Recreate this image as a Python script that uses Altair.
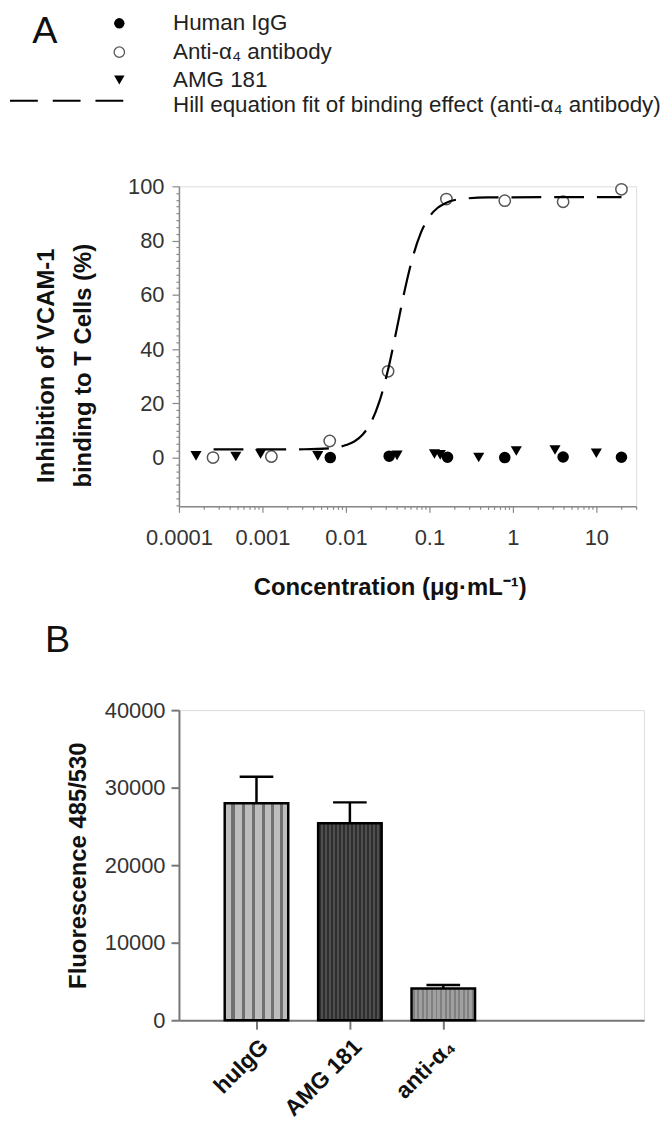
import json
import altair as alt
import pandas as pd

FONT = "Liberation Sans"

# ---------------- Panel A data ----------------
igg_x = [0.00128, 0.0065, 0.033, 0.165, 0.8, 4.0, 20.0]
igg_y = [0.2, 0.0, 0.5, 0.1, 0.0, 0.2, 0.1]

anti_x = [0.000256, 0.00128, 0.0064, 0.032, 0.16, 0.8, 4.0, 20.0]
anti_y = [0.0, 0.4, 6.1, 31.8, 95.3, 94.7, 94.3, 98.9]

amg_x = [0.00016, 0.00048, 0.00095, 0.0046, 0.041, 0.115, 0.135, 0.39, 1.1, 3.2, 10.0]
amg_y = [0.6, 0.4, 1.3, 0.6, 0.8, 1.3, 1.0, 0.0, 2.4, 2.8, 1.6]

fit_x = [0.00026, 0.001, 0.0032, 0.0063, 0.01, 0.0126, 0.0158, 0.02, 0.0251,
         0.0316, 0.0398, 0.0501, 0.0631, 0.0794, 0.1, 0.126, 0.158, 0.251,
         0.5, 3.16, 20.0]
fit_y = [3.0, 3.0, 3.06, 3.4, 4.6, 5.9, 8.4, 13.0, 20.5, 31.7, 46.0, 61.0,
         73.8, 83.0, 88.8, 92.1, 93.9, 95.4, 95.9, 96.0, 96.0]

legend_labels = ["Human IgG", "Anti-α₄ antibody", "AMG 181",
                 "Hill equation fit of binding effect (anti-α₄ antibody)"]

x_ticks_A = [d * m for d in [1e-4, 1e-3, 1e-2, 1e-1, 1, 10] for m in range(1, 10) if d * m <= 30.0001]
y_ticks_A = [-17.5 + 2.5 * i for i in range(48)]

# ---------------- Panel B data ----------------
bar_labels = ["huIgG", "AMG 181", "anti-α₄"]
bar_means = [28000, 25400, 4100]
bar_errs = [3400, 2700, 450]
y_ticks_B = [0, 10000, 20000, 30000, 40000]

# ---------------- Panel A ----------------
is_decade = "abs(log(datum.value)/LN10 - round(log(datum.value)/LN10)) < 0.001"
is_major_y = "datum.value % 20 === 0"

axis_x_A = alt.Axis(
    values=x_ticks_A,
    labelExpr=f"({is_decade}) ? format(datum.value, '~g') : ''",
    tickSize={"condition": {"test": is_decade, "value": 6}, "value": 3},
    title="Concentration (μg·mL⁻¹)",
    titleFont=FONT, titleFontSize=24, titleFontWeight="bold", titleColor="#111",
    titlePadding=28, titleX=212, titleAlign="center",
    labelFont=FONT, labelFontSize=22, labelColor="#333", labelPadding=15,
    domainColor="#888", domainWidth=1.5, tickColor="#888", tickWidth=1.2,
    grid=False, labelOverlap=False, labelFlush=False,
)
axis_y_A = alt.Axis(
    values=y_ticks_A,
    labelExpr=f"({is_major_y}) ? datum.label : ''",
    tickSize={"condition": {"test": is_major_y, "value": 7}, "value": 3},
    title=["Inhibition of VCAM-1", "binding to T Cells (%)"],
    titleFont=FONT, titleFontSize=24, titleFontWeight="bold", titleColor="#111",
    titleLineHeight=38, titlePadding=32, titleY=180,
    labelFont=FONT, labelFontSize=22, labelColor="#333", labelPadding=8,
    domainColor="#888", domainWidth=1.5, tickColor="#888", tickWidth=1.2,
    grid=False, labelOverlap=False, labelFlush=False,
)

xA = alt.X("conc:Q", scale=alt.Scale(type="log", domain=[0.0001, 30], nice=False), axis=axis_x_A)
yA = alt.Y("inhib:Q", scale=alt.Scale(domain=[-18, 100], nice=False, zero=False), axis=axis_y_A)

df_igg = pd.DataFrame({"conc": igg_x, "inhib": igg_y})
df_anti = pd.DataFrame({"conc": anti_x, "inhib": anti_y})
df_amg = pd.DataFrame({"conc": amg_x, "inhib": amg_y})
df_fit = pd.DataFrame({"conc": fit_x, "inhib": fit_y})

igg_layer = alt.Chart(df_igg).mark_point(shape="circle", filled=True, color="black", size=135, opacity=1).encode(x=xA, y=yA)
amg_layer = alt.Chart(df_amg).mark_point(shape="triangle-down", filled=True, color="black", size=125, opacity=1).encode(x=xA, y=yA)
anti_layer = alt.Chart(df_anti).mark_point(shape="circle", filled=True, fill="white", stroke="#555",
                                           strokeWidth=1.5, size=130, opacity=1).encode(x=xA, y=yA)
fit_layer = alt.Chart(df_fit).mark_line(color="black", strokeDash=[30, 13], strokeWidth=2.2,
                                        interpolate="monotone").encode(x=xA, y=yA)

one = pd.DataFrame({"k": [0]})

# legend (decoration placed above the plot)
leg_sym_x = -60
leg_rows = [-164, -135, -107]
leg_layers = [
    alt.Chart(one).mark_text(text="A", font=FONT, fontSize=38, align="center", baseline="middle",
                             color="#111").encode(x=alt.value(-135), y=alt.value(-155)),
    alt.Chart(one).mark_point(shape="circle", filled=True, color="black", size=110, opacity=1)
        .encode(x=alt.value(leg_sym_x), y=alt.value(leg_rows[0])),
    alt.Chart(one).mark_point(shape="circle", filled=True, fill="white", stroke="#555", strokeWidth=1.3,
                              size=110, opacity=1).encode(x=alt.value(leg_sym_x), y=alt.value(leg_rows[1])),
    alt.Chart(one).mark_point(shape="triangle-down", filled=True, color="black", size=110, opacity=1)
        .encode(x=alt.value(leg_sym_x), y=alt.value(leg_rows[2])),
    alt.Chart(one).mark_rule(color="black", strokeDash=[28, 15], strokeWidth=2)
        .encode(x=alt.value(-170), x2=alt.value(-56), y=alt.value(-86)),
]
for lab, yy in zip(legend_labels, leg_rows + [-82]):
    leg_layers.append(
        alt.Chart(one).mark_text(text=lab, font=FONT, fontSize=22.5, align="left", baseline="middle",
                                 color="#222").encode(x=alt.value(-6), y=alt.value(yy))
    )

panelA = alt.layer(igg_layer, amg_layer, anti_layer, fit_layer, *leg_layers).properties(width=460, height=322)

# ---------------- Panel B ----------------
half_bar = 0.34
half_cap = 0.18
df_bars = pd.DataFrame({"label": bar_labels, "mean": bar_means, "err": bar_errs})
df_bars["pos"] = range(1, len(bar_labels) + 1)

label_expr_B = f"{json.dumps(bar_labels, ensure_ascii=False)}[datum.value - 1]"
axis_x_B = alt.Axis(
    values=list(range(1, len(bar_labels) + 1)), labelExpr=label_expr_B, title="",
    labelAngle=315, labelFont=FONT, labelFontSize=23, labelFontWeight="bold", labelColor="#111",
    labelPadding=6, tickSize=9, tickWidth=2, tickColor="#777",
    domainColor="#777", domainWidth=2, grid=False, labelOverlap=False,
)
axis_y_B = alt.Axis(
    values=y_ticks_B, format="d", title="Fluorescence 485/530",
    titleFont=FONT, titleFontSize=24, titleFontWeight="bold", titleColor="#111", titlePadding=14,
    labelFont=FONT, labelFontSize=22, labelColor="#333", labelPadding=6,
    tickSize=8, tickWidth=2, tickColor="#777", domainColor="#777", domainWidth=2, grid=False,
)
xscaleB = alt.Scale(domain=[0.17, 5.15], nice=False, zero=False)
yscaleB = alt.Scale(domain=[0, 40000], nice=False)


def stripes(centers, w, light, dark):
    stops = [alt.GradientStop(offset=0, color=light)]
    for c in centers:
        stops += [alt.GradientStop(offset=c - w / 2, color=light), alt.GradientStop(offset=c - w / 2, color=dark),
                  alt.GradientStop(offset=c + w / 2, color=dark), alt.GradientStop(offset=c + w / 2, color=light)]
    stops.append(alt.GradientStop(offset=1, color=light))
    return alt.LinearGradient(gradient="linear", stops=stops, x1=0, x2=1, y1=0, y2=0)


fills = [
    stripes([0.13, 0.29, 0.45, 0.61, 0.75, 0.89], 0.05, "#bdbdbd", "#707070"),
    stripes([(i + 0.5) / 16 for i in range(16)], 0.028, "#4e4e4e", "#2e2e2e"),
    stripes([(i + 0.5) / 14 for i in range(14)], 0.03, "#a0a0a0", "#808080"),
]

base_B = alt.Chart(df_bars).transform_calculate(
    x0=f"datum.pos - {half_bar}", x1=f"datum.pos + {half_bar}",
    c0=f"datum.pos - {half_cap}", c1=f"datum.pos + {half_cap}",
    top="datum.mean + datum.err",
)

bar_layers = []
for i, lab in enumerate(bar_labels):
    enc = dict(
        x=alt.X("x0:Q", scale=xscaleB, axis=axis_x_B),
        x2="x1:Q",
        y=alt.Y("mean:Q", scale=yscaleB, axis=axis_y_B),
        y2=alt.Y2(datum=0),
    )
    bar_layers.append(
        base_B.transform_filter(alt.datum.label == lab)
        .mark_bar(fill=fills[i], stroke="black", strokeWidth=2.5)
        .encode(**enc)
    )

err_rule = base_B.mark_rule(color="black", strokeWidth=2.5).encode(
    x=alt.X("pos:Q", scale=xscaleB), y=alt.Y("mean:Q", scale=yscaleB), y2="top:Q")
err_cap = base_B.mark_rule(color="black", strokeWidth=2.5).encode(
    x=alt.X("c0:Q", scale=xscaleB), x2="c1:Q", y=alt.Y("top:Q", scale=yscaleB))
b_text = alt.Chart(one).mark_text(text="B", font=FONT, fontSize=38, align="center", baseline="middle",
                                  color="#111").encode(x=alt.value(-122), y=alt.value(-69))

panelB = alt.layer(err_rule, err_cap, *bar_layers, b_text).properties(width=468, height=312)

chart = alt.vconcat(panelA, panelB, spacing=21).properties(padding=0).configure_view(
    stroke="transparent").configure(font=FONT)

chart.save("out.html", embed_options={"renderer": "svg", "actions": False})
